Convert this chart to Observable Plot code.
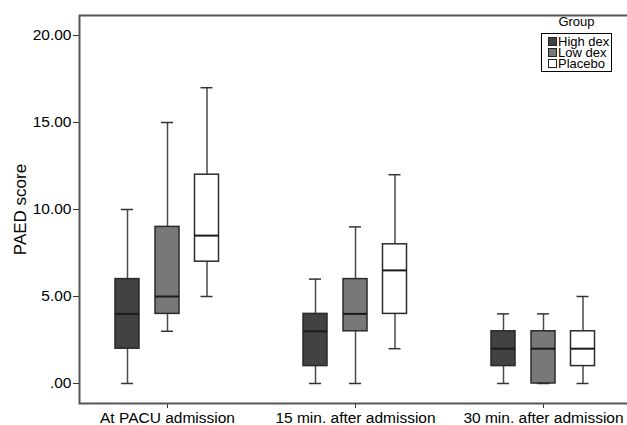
<!DOCTYPE html>
<html>
<head>
<meta charset="utf-8">
<script src="https://cdn.jsdelivr.net/npm/d3@7"></script>
<script src="https://cdn.jsdelivr.net/npm/@observablehq/plot@0.6"></script>
<style>
  html, body { margin: 0; padding: 0; background: #fff; }
  #wrap { position: relative; width: 627px; height: 425px; overflow: hidden; font-family: "Liberation Sans", Arial, Helvetica, sans-serif; }
  #wrap svg { max-width: none !important; display: block; }
  #wrap svg text { fill: #000; }
  .legend-title { position: absolute; left: 541px; width: 71px; top: 15px; text-align: center; font-size: 13px; line-height: 13px; }
  .legend-box { position: absolute; left: 541px; top: 33px; width: 69px; height: 37px; border: 1px solid #000; background: #fff; }
  .legend-row { position: absolute; left: 6px; height: 11px; font-size: 13px; line-height: 11px; white-space: nowrap; }
  .legend-row span.sw { display: inline-block; width: 7px; height: 7px; border: 1px solid #222; margin-right: 1px; vertical-align: 0px; }
</style>
</head>
<body>
<div id="wrap"></div>
<script>
const timepoints = ["At PACU admission", "15 min. after admission", "30 min. after admission"];
const groups = ["High dex", "Low dex", "Placebo"];
// [min, q1, median, q3, max] per timepoint
const highDex = [[0, 2, 4, 6, 10], [0, 1, 3, 4, 6], [0, 1, 2, 3, 4]];
const lowDex  = [[3, 4, 5, 9, 15], [0, 3, 4, 6, 9], [0, 0, 2, 3, 4]];
const placebo = [[5, 7, 8.5, 12, 17], [2, 4, 6.5, 8, 12], [0, 1, 2, 3, 5]];
const yTicks = [0, 5, 10, 15, 20];

const groupStats = [highDex, lowDex, placebo];
const fills = ["#424242", "#787878", "#ffffff"];
const offsets = [-40, 0, 39.5];

const rows = [];
groups.forEach((g, gi) => {
  timepoints.forEach((t, ti) => {
    const [min, q1, med, q3, max] = groupStats[gi][ti];
    rows.push({group: g, time: t, min, q1, med, q3, max});
  });
});

const marks = [];
groups.forEach((g, gi) => {
  const data = rows.filter(d => d.group === g);
  const dx = offsets[gi];
  marks.push(
    Plot.ruleX(data, {x: "time", y1: "min", y2: "q1", dx, stroke: "#4a4a4a", strokeWidth: 1.5}),
    Plot.ruleX(data, {x: "time", y1: "q3", y2: "max", dx, stroke: "#4a4a4a", strokeWidth: 1.5}),
    Plot.tickY(data, {x: "time", y: "min", dx, insetLeft: 6, insetRight: 6, stroke: "#333", strokeWidth: 1.5}),
    Plot.tickY(data, {x: "time", y: "max", dx, insetLeft: 6, insetRight: 6, stroke: "#333", strokeWidth: 1.5}),
    Plot.barY(data, {x: "time", y1: "q1", y2: "q3", dx, fill: fills[gi], stroke: "#2a2a2a", strokeWidth: 1.5}),
    Plot.tickY(data, {x: "time", y: "med", dx, stroke: "#1a1a1a", strokeWidth: 2})
  );
});

const chart = Plot.plot({
  width: 640,
  height: 425,
  marginLeft: 79,
  marginRight: 0,
  marginTop: 15,
  marginBottom: 22,
  style: {fontSize: "15.5px", fontFamily: "'Liberation Sans', Arial, Helvetica, sans-serif", color: "#333", background: "#fff", maxWidth: "none"},
  x: {domain: timepoints, range: [72.5, 638.5], paddingInner: 0.87, paddingOuter: 0.435, label: null, tickSize: 5, tickPadding: 3},
  y: {domain: [-1.15, 21.15], ticks: yTicks, tickFormat: d => d === 0 ? ".00" : d.toFixed(2), label: null, tickSize: 6, tickPadding: 2},
  marks: [
    Plot.frame({stroke: "#555", strokeWidth: 2}),
    ...marks,
    Plot.text(["PAED score"], {frameAnchor: "left", textAnchor: "middle", lineAnchor: "middle", dx: -59, dy: 0, rotate: -90, fontSize: 17, fill: "#000"})
  ]
});

const wrap = document.getElementById("wrap");
wrap.appendChild(chart);

// Legend
const title = document.createElement("div");
title.className = "legend-title";
title.textContent = "Group";
wrap.appendChild(title);
const box = document.createElement("div");
box.className = "legend-box";
groups.forEach((g, i) => {
  const row = document.createElement("div");
  row.className = "legend-row";
  row.style.top = (2 + i * 11) + "px";
  const sw = document.createElement("span");
  sw.className = "sw";
  sw.style.background = fills[i];
  row.appendChild(sw);
  row.appendChild(document.createTextNode(g));
  box.appendChild(row);
});
wrap.appendChild(box);
</script>
</body>
</html>
